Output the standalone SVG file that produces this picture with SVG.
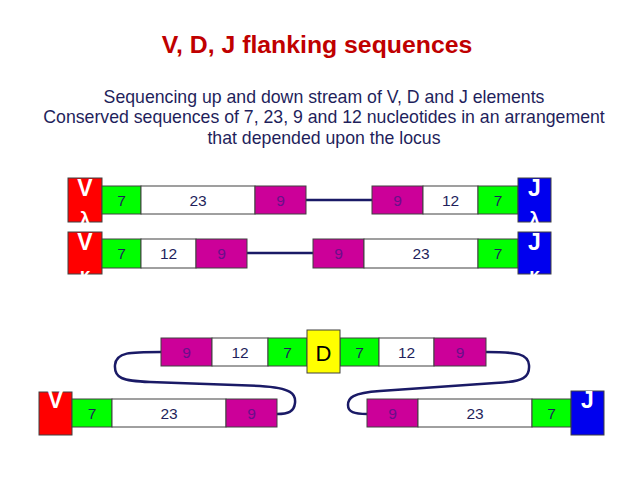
<svg xmlns="http://www.w3.org/2000/svg" width="640" height="480" viewBox="0 0 640 480">
<style>
.bg{fill:#ffffff}
.box{stroke:#404040;stroke-width:1}
.g{fill:#00ff00}
.w{fill:#ffffff}
.m{fill:#cc0099}
.r{fill:#ff0000}
.b{fill:#0000ee}
.y{fill:#ffff00}
.t{font-family:"Liberation Sans",Arial,sans-serif;font-size:15.5px;fill:#1f1f5c;text-anchor:middle}
.t9{font-family:"Liberation Sans",Arial,sans-serif;font-size:15.5px;fill:#6a0f8a;text-anchor:middle}
.gl{font-family:"Liberation Sans",Arial,sans-serif;font-size:23px;font-weight:bold;fill:#ffffff;text-anchor:middle}
.gs{font-family:"Liberation Sans",Arial,sans-serif;font-size:19px;font-weight:bold;fill:#ffffff;text-anchor:middle}
.line{fill:none;stroke:#1a1a66;stroke-width:2.5}
.title{font-family:"Liberation Sans",Arial,sans-serif;font-size:24.8px;font-weight:bold;fill:#c00000;text-anchor:middle}
.sub{font-family:"Liberation Sans",Arial,sans-serif;font-size:17.7px;fill:#1f1f5c;text-anchor:middle}
</style>
<rect class="bg" x="0" y="0" width="640" height="480"/>
<g id="title">
<text class="title" x="317" y="53">V, D, J flanking sequences</text>
<text class="sub" x="324" y="103">Sequencing up and down stream of V, D and J elements</text>
<text class="sub" x="324" y="123">Conserved sequences of 7, 23, 9 and 12 nucleotides in an arrangement</text>
<text class="sub" x="324" y="144">that depended upon the locus</text>
</g>
<g id="connectors">
<line class="line" x1="306" y1="200" x2="372" y2="200"/>
<line class="line" x1="247" y1="253" x2="313" y2="253"/>
<path class="line" d="M161,352 C130,352 116,352 115,365 C114,378 122,381 150,382 L260,386 C292,388 296,394 295,403 C294,412 288,414 277,414"/>
<path class="line" d="M486,352 C518,352 528,354 529,365 C530,377 524,382 495,383 L380,391 C352,393 348,398 348,405 C348,412 354,414 367,414"/>
</g>
<g id="vlambda">
<rect class="r box" x="68" y="178" width="34" height="44"/>
<text class="gl" x="85" y="196">V</text>
<text class="gs" x="85" y="225">λ</text>
</g>
<g id="row1-left">
<rect class="g box" x="102" y="186" width="39" height="28"/><text class="t" x="121.5" y="205.5">7</text>
<rect class="w box" x="141" y="186" width="114" height="28"/><text class="t" x="198" y="205.5">23</text>
<rect class="m box" x="255" y="186" width="51" height="28"/><text class="t9" x="280.5" y="205.5">9</text>
</g>
<g id="row1-right">
<rect class="m box" x="372" y="186" width="51" height="28"/><text class="t9" x="397.5" y="205.5">9</text>
<rect class="w box" x="423" y="186" width="55" height="28"/><text class="t" x="450.5" y="205.5">12</text>
<rect class="g box" x="478" y="186" width="40" height="28"/><text class="t" x="498" y="205.5">7</text>
</g>
<g id="jlambda">
<rect class="b box" x="518" y="178" width="33" height="44"/>
<text class="gl" x="534.5" y="196">J</text>
<text class="gs" x="534.5" y="225">λ</text>
</g>
<g id="vkappa">
<rect class="r box" x="68" y="232" width="34" height="42"/>
<text class="gl" x="85" y="250">V</text>
<text class="gs" x="85" y="281">κ</text>
</g>
<g id="row2-left">
<rect class="g box" x="102" y="239" width="39" height="29"/><text class="t" x="121.5" y="259">7</text>
<rect class="w box" x="141" y="239" width="55" height="29"/><text class="t" x="168.5" y="259">12</text>
<rect class="m box" x="196" y="239" width="51" height="29"/><text class="t9" x="221.5" y="259">9</text>
</g>
<g id="row2-right">
<rect class="m box" x="313" y="239" width="51" height="29"/><text class="t9" x="338.5" y="259">9</text>
<rect class="w box" x="364" y="239" width="114" height="29"/><text class="t" x="421" y="259">23</text>
<rect class="g box" x="478" y="239" width="40" height="29"/><text class="t" x="498" y="259">7</text>
</g>
<g id="jkappa">
<rect class="b box" x="518" y="232" width="33" height="42"/>
<text class="gl" x="534.5" y="250">J</text>
<text class="gs" x="534.5" y="281">κ</text>
</g>
<g id="d-left">
<rect class="m box" x="161" y="338" width="51" height="28"/><text class="t9" x="186.5" y="357.5">9</text>
<rect class="w box" x="212" y="338" width="56" height="28"/><text class="t" x="240" y="357.5">12</text>
<rect class="g box" x="268" y="338" width="39" height="28"/><text class="t" x="287.5" y="357.5">7</text>
</g>
<g id="d-right">
<rect class="g box" x="340" y="338" width="39" height="28"/><text class="t" x="359.5" y="357.5">7</text>
<rect class="w box" x="379" y="338" width="55" height="28"/><text class="t" x="406.5" y="357.5">12</text>
<rect class="m box" x="434" y="338" width="52" height="28"/><text class="t9" x="460" y="357.5">9</text>
</g>
<g id="d">
<rect class="y box" x="307" y="330" width="33" height="43"/>
<text x="323.5" y="361" style="font-family:'Liberation Sans',Arial,sans-serif;font-size:22px;fill:#000000;text-anchor:middle">D</text>
</g>
<g id="v">
<rect class="r box" x="39" y="392" width="33" height="43"/>
<text class="gl" x="55.5" y="408">V</text>
</g>
<g id="v-row">
<rect class="g box" x="72" y="399" width="40" height="28"/><text class="t" x="92" y="418.5">7</text>
<rect class="w box" x="112" y="399" width="114" height="28"/><text class="t" x="169" y="418.5">23</text>
<rect class="m box" x="226" y="399" width="51" height="28"/><text class="t9" x="251.5" y="418.5">9</text>
</g>
<g id="j-row">
<rect class="m box" x="367" y="399" width="51" height="28"/><text class="t9" x="392.5" y="418.5">9</text>
<rect class="w box" x="418" y="399" width="114" height="28"/><text class="t" x="475" y="418.5">23</text>
<rect class="g box" x="532" y="399" width="39" height="28"/><text class="t" x="551.5" y="418.5">7</text>
</g>
<g id="j">
<rect class="b box" x="571" y="391" width="33" height="44"/>
<text class="gl" x="587.5" y="408">J</text>
</g>
</svg>
